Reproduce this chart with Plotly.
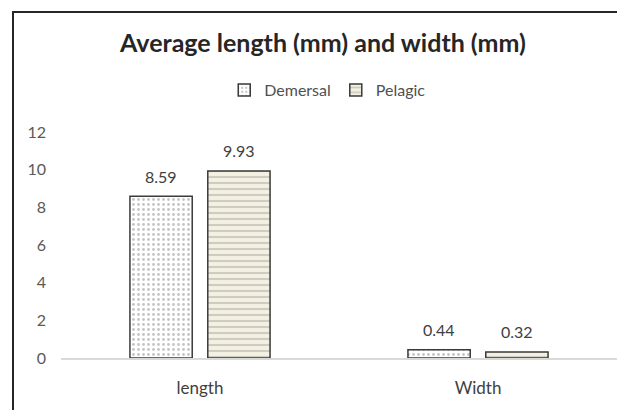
import plotly.graph_objects as go

categories = ["length", "Width"]
demersal = [8.59, 0.44]
pelagic = [9.93, 0.32]
y_ticks = [0, 2, 4, 6, 8, 10, 12]

FONT = "Lato, 'Open Sans', sans-serif"
# page body has an 8px margin, so the figure is drawn 8px smaller and offset
W, H = 617, 402
L, R, T, B = 53, 8, 124, 52

BARGAP, GROUPGAP = 0.44, 0.2
slot = (1 - BARGAP) / 2
offsets = [-slot / 2, slot / 2]

fig = go.Figure()
fig.add_trace(go.Bar(
    name="Demersal", x=categories, y=demersal,
    marker=dict(color="#ffffff", line=dict(color="#3a3a3a", width=1.5),
                pattern=dict(shape=".", fgcolor="#8a8a8a", bgcolor="#ffffff", size=5, solidity=0.25)),
))
fig.add_trace(go.Bar(
    name="Pelagic", x=categories, y=pelagic,
    marker=dict(color="#f4f1e2", line=dict(color="#3a3a3a", width=1.5),
                pattern=dict(shape="-", fgcolor="#a8a8a0", bgcolor="#f4f1e2", size=6, solidity=0.35)),
))

annotations = []
for k, series in enumerate([demersal, pelagic]):
    for i, v in enumerate(series):
        annotations.append(dict(
            x=i + offsets[k], y=v, xref="x", yref="y", text=f"{v:.2f}",
            showarrow=False, yanchor="middle", yshift=20,
            font=dict(family=FONT, size=16, color="#404040"),
        ))

pw = W - L - R
ph = H - T - B
def px_x(p):
    return (p - L) / pw
def px_y(p):
    return (H - B - p) / ph

fig.update_layout(
    width=W, height=H,
    margin=dict(l=L, r=R, t=T, b=B),
    paper_bgcolor="white", plot_bgcolor="white",
    barmode="group", bargap=BARGAP, bargroupgap=GROUPGAP,
    font=dict(family=FONT, color="#595959"),
    title=dict(text="<b>Average length (mm) and width (mm)</b>", x=315 / W, xanchor="center",
               y=1 - 35 / H, yanchor="middle", yref="container",
               font=dict(family=FONT, size=25, color="#262626")),
    legend=dict(orientation="h", x=296 / W, xanchor="center", y=1 - 82 / H, yanchor="middle",
                yref="container", font=dict(family=FONT, size=16, color="#505050"),
                itemwidth=30, tracegroupgap=0),
    showlegend=True,
    annotations=annotations,
    xaxis=dict(showline=True, linecolor="#d9d9d9", linewidth=1.5, showgrid=False,
               ticks="", tickfont=dict(family=FONT, size=17, color="#404040"),
               ticklabelstandoff=14),
    yaxis=dict(range=[0, 12], tickvals=y_ticks, showgrid=False, zeroline=False,
               showline=False, ticks="", tickfont=dict(family=FONT, size=16, color="#595959"),
               ticklabelstandoff=14),
    shapes=[dict(type="rect", xref="paper", yref="paper",
                 x0=px_x(5), x1=px_x(611), y0=px_y(420), y1=px_y(4),
                 line=dict(color="#262626", width=2), fillcolor="rgba(0,0,0,0)")],
)

fig.write_html("out.html")
